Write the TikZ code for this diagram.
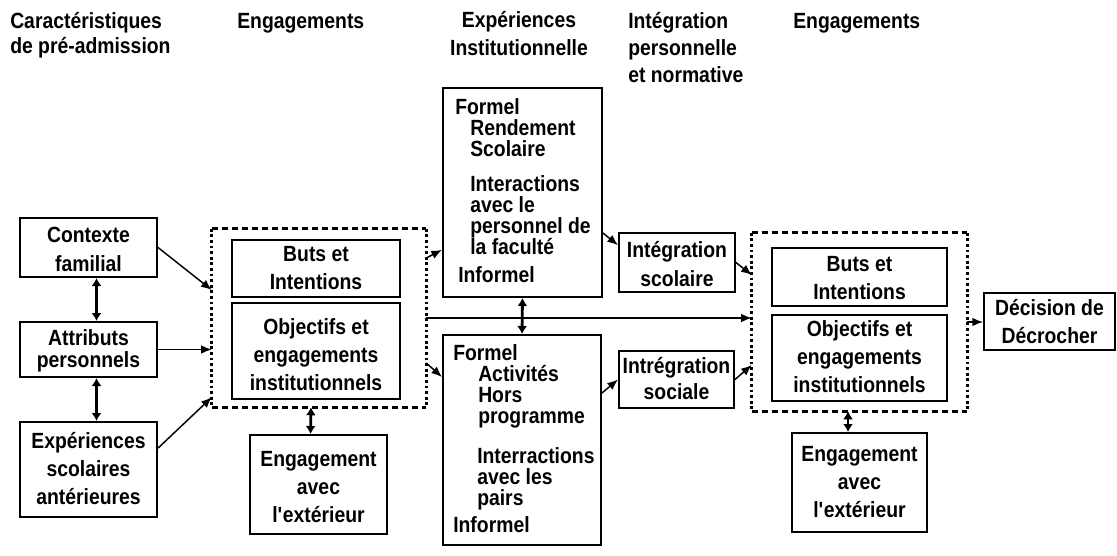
\documentclass[tikz,border=0pt]{standalone}
\usepackage{fontspec}
\setmainfont{Liberation Sans}[UprightFont={* Bold},FakeStretch=0.88]
\usetikzlibrary{arrows.meta,fit}
\begin{document}
\begin{tikzpicture}[x=0.75pt,y=-0.75pt,
  box/.style={draw, line width=1.5pt, inner sep=0pt},
  grp/.style={inner sep=0pt},
  lbl/.style={inner sep=0pt, anchor=base, align=center, font=\fontsize{16.5}{21}\selectfont},
  hdash/.style={line width=1.9pt, dash pattern=on 5pt off 2.5pt},
  vdot/.style={line width=2.1pt, dash pattern=on 2.2pt off 2pt},
  arr/.style={-{Latex[length=8pt,width=6.5pt]}, line width=1.1pt},
  dbl/.style={{Latex[length=6pt,width=7.5pt]}-{Latex[length=6pt,width=7.5pt]}, line width=2.1pt},
  hdr/.style={inner sep=0pt, anchor=base west, align=left, font=\fontsize{16.5}{20.6}\selectfont},
  txt/.style={inner sep=0pt, anchor=base west, align=left, font=\fontsize{16.5}{15.75}\selectfont}]
\useasboundingbox (0,0) rectangle (1117,556);

% headers (anchored at the baseline of their last line)
\node[hdr, font=\fontsize{16.5}{18.75}\selectfont] (h1) at (10,54) {Caractéristiques\\de pré-admission};
\node[hdr] (h2) at (237,29) {Engagements};
\node[hdr, align=center, anchor=base, font=\fontsize{16.5}{21}\selectfont] (h3) at (519,56) {Expériences\\Institutionnelle};
\node[hdr] (h4) at (628,83) {Intégration\\personnelle\\et normative};
\node[hdr] (h5) at (793,29) {Engagements};

% boxes
\node[box, fit={(20,218) (157,277)}] (cf) {};
\node[box, fit={(20,322) (157,377)}] (ap) {};
\node[box, fit={(20,422) (157,517)}] (es) {};
\node[grp, fit={(212,229) (426,407)}] (d1) {};
\node[box, fit={(232,240) (400,297)}] (bi1) {};
\node[box, fit={(232,303) (400,399)}] (ob1) {};
\node[box, fit={(250,435) (387,534)}] (e1) {};
\node[box, fit={(443,88) (602,297)}] (T) {};
\node[box, fit={(443,335) (601,545)}] (B) {};
\node[box, fit={(619,233) (735,292)}] (is) {};
\node[box, fit={(619,351) (734,408)}] (so) {};
\node[grp, fit={(752,233) (967,411)}] (d2) {};
\node[box, fit={(772,248) (947,306)}] (bi2) {};
\node[box, fit={(772,315) (947,401)}] (ob2) {};
\node[box, fit={(792,433) (927,532)}] (e2) {};
\node[box, fit={(984,293) (1115,350)}] (dd) {};

% box texts (anchored at the baseline of their last line)
\node[lbl] (cft) at (cf.center |- 0,271) {Contexte\\familial};
\node[lbl, font=\fontsize{16.5}{16.5}\selectfont] (apt) at (ap.center |- 0,367) {Attributs\\personnels};
\node[lbl] (est) at (es.center |- 0,504) {Expériences\\scolaires\\antérieures};
\node[lbl] (bi1t) at (bi1.center |- 0,289) {Buts et\\Intentions};
\node[lbl] (ob1t) at (ob1.center |- 0,390) {Objectifs et\\engagements\\institutionnels};
\node[lbl] (e1t) at (e1.center |- 0,522) {Engagement\\avec\\l\textquotesingle extérieur};
\node[lbl] (ist) at (is.center |- 0,286) {Intégration\\scolaire};
\node[lbl, font=\fontsize{16.5}{19.5}\selectfont] (sot) at (so.center |- 0,399) {Intrégration\\sociale};
\node[lbl] (bi2t) at (bi2.center |- 0,299) {Buts et\\Intentions};
\node[lbl] (ob2t) at (ob2.center |- 0,392) {Objectifs et\\engagements\\institutionnels};
\node[lbl] (e2t) at (e2.center |- 0,517) {Engagement\\avec\\l\textquotesingle extérieur};
\node[lbl] (ddt) at (dd.center |- 0,343) {Décision de\\Décrocher};

\node[txt] (tt) at (455,282) {Formel\\
\hspace*{11.25pt}Rendement\\
\hspace*{11.25pt}Scolaire\\[10.5pt]
\hspace*{11.25pt}Interactions\\
\hspace*{11.25pt}avec le\\
\hspace*{11.25pt}personnel de\\
\hspace*{11.25pt}la faculté\\[5.25pt]
\hspace*{2.25pt}Informel};
\node[txt] (bt) at (453,532) {Formel\\
\hspace*{18.75pt}Activités\\
\hspace*{18.75pt}Hors\\
\hspace*{18.75pt}programme\\[14.25pt]
\hspace*{18pt}Interractions\\
\hspace*{18pt}avec les\\
\hspace*{18pt}pairs\\[4.5pt]
Informel};

% dashed group outlines
\foreach \g in {d1,d2}{
  \draw[hdash] (\g.north west) -- (\g.north east);
  \draw[hdash] (\g.south west) -- (\g.south east);
  \draw[vdot] (\g.north west) -- (\g.south west);
  \draw[vdot] (\g.north east) -- (\g.south east);
}

% connectors
\draw[dbl] ([xshift=6pt]cf.south) -- ([xshift=6pt]ap.north);
\draw[dbl] ([xshift=6pt]ap.south) -- ([xshift=6pt]es.north);
\draw[arr] (cf.east) -- ([yshift=21pt]d1.west);
\draw[arr] (ap.east) -- (d1.west |- ap.east);
\draw[arr] ([yshift=16pt]es.east) -- ([yshift=7.5pt]d1.south west);
\draw[dbl] ([xshift=-6pt]d1.south) -- ([xshift=-6pt]e1.north);

\draw[arr] ([yshift=45pt]d1.east) -- ([yshift=-43pt]T.west);
\draw[arr] ([yshift=-33.75pt]d1.east) -- ([yshift=47.25pt]B.west);
\draw[arr] (d1.east) -- (d2.west |- d1.east);
\draw[dbl] (T.south) -- (B.north);

\draw[arr] ([yshift=-30.4pt]T.east) -- ([yshift=13pt]is.west);
\draw[arr] (is.east) -- ([yshift=35.25pt]d2.west);
\draw[arr] ([yshift=35.25pt]B.east) -- (so.west);
\draw[arr] (so.east) -- ([yshift=-32.25pt]d2.west);

\draw[arr] (d2.east) -- (dd.west |- d2.east);
\draw[dbl] ([xshift=-8.6pt]d2.south) -- ([xshift=-8.6pt]e2.north);
\end{tikzpicture}
\end{document}
